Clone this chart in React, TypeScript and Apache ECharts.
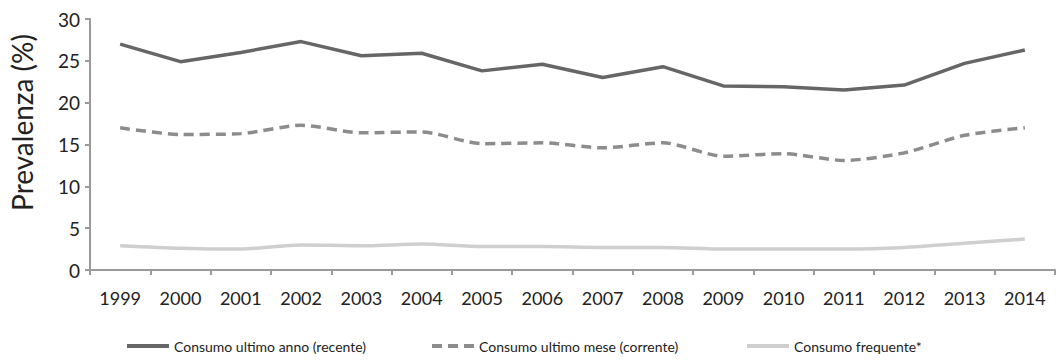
import React, { useEffect, useRef } from "react";
import * as echarts from "echarts";

const years = ["1999","2000","2001","2002","2003","2004","2005","2006","2007","2008","2009","2010","2011","2012","2013","2014"];
const recente = [27.0, 24.9, 26.0, 27.3, 25.6, 25.9, 23.8, 24.6, 23.0, 24.3, 22.0, 21.9, 21.5, 22.1, 24.7, 26.3];
const corrente = [17.0, 16.2, 16.3, 17.3, 16.4, 16.5, 15.1, 15.2, 14.6, 15.2, 13.6, 13.9, 13.1, 14.0, 16.1, 17.0];
const frequente = [2.9, 2.6, 2.5, 3.0, 2.9, 3.1, 2.8, 2.8, 2.7, 2.7, 2.5, 2.5, 2.5, 2.7, 3.2, 3.7];
const seriesNames = ["Consumo ultimo anno (recente)", "Consumo ultimo mese (corrente)", "Consumo frequente*"];

export default function App() {
  const ref = useRef<HTMLDivElement>(null);
  useEffect(() => {
    if (!ref.current) return;
    const chart = echarts.init(ref.current, null, { renderer: "svg" });
    const font = "Lato, 'Open Sans', sans-serif";
    const legendLefts = [120, 425, 740];
    chart.setOption({
      animation: false,
      grid: { left: 90, right: 1, top: 19, bottom: 90 },
      legend: seriesNames.map((n, i) => ({
        top: 334,
        left: legendLefts[i],
        itemWidth: 42,
        itemHeight: 14,
        itemStyle: { opacity: 0 },
        lineStyle: { width: 4 },
        textStyle: { fontFamily: font, fontSize: 14, color: "#222" },
        data: [n],
      })),
      xAxis: {
        type: "category",
        data: years,
        boundaryGap: true,
        axisLine: { lineStyle: { color: "#9a9a9a", width: 2 } },
        axisTick: { show: true, length: 5, lineStyle: { color: "#9a9a9a", width: 2 } },
        axisLabel: { fontFamily: font, fontSize: 18, color: "#222", margin: 19 },
      },
      yAxis: {
        type: "value",
        min: 0,
        max: 30,
        interval: 5,
        name: "Prevalenza (%)",
        nameLocation: "middle",
        nameGap: 54,
        nameTextStyle: { fontFamily: font, fontSize: 28, color: "#222", padding: [0, 0, 0, 44] },
        axisLine: { show: true, lineStyle: { color: "#9a9a9a", width: 2 } },
        axisTick: { show: true, length: 5, lineStyle: { color: "#9a9a9a", width: 2 } },
        splitLine: { show: false },
        axisLabel: { fontFamily: font, fontSize: 19, color: "#222", margin: 10 },
      },
      series: [
        {
          name: seriesNames[0],
          type: "line",
          data: recente,
          symbol: "none",
          lineStyle: { color: "#666666", width: 3.5 },
          itemStyle: { color: "#666666" },
        },
        {
          name: seriesNames[1],
          type: "line",
          data: corrente,
          symbol: "none",
          smooth: 0.25,
          lineStyle: { color: "#8c8c8c", width: 3.5, type: [10, 6] },
          itemStyle: { color: "#8c8c8c" },
        },
        {
          name: seriesNames[2],
          type: "line",
          data: frequente,
          symbol: "none",
          smooth: 0.25,
          lineStyle: { color: "#cfcfcf", width: 3.5 },
          itemStyle: { color: "#cfcfcf" },
        },
      ],
    });
    return () => chart.dispose();
  }, []);
  return <div ref={ref} style={{ width: 1056, height: 360, position: "absolute", left: 0, top: 0 }} />;
}
